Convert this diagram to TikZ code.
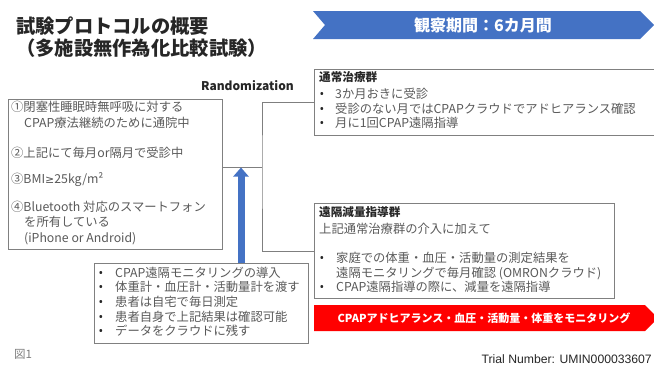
\documentclass[tikz,border=0pt]{standalone}
\usepackage{fontspec}
\setmainfont{Noto Sans CJK JP}
\newfontfamily\arialfont{Liberation Sans}
\newfontfamily\symfont{Noto Sans}
\newfontfamily\mathsymfont{DejaVu Sans}
\usetikzlibrary{arrows.meta}
\definecolor{bannerblue}{HTML}{4472C4}
\definecolor{boxgray}{HTML}{808080}
\definecolor{txtgray}{HTML}{595959}
\definecolor{darktxt}{HTML}{262626}
\definecolor{linegray}{HTML}{7F7F7F}
\definecolor{alertred}{HTML}{FF0000}
\begin{document}
\begin{tikzpicture}[x=1pt,y=-1pt,
  box/.style={draw=boxgray, line width=1.2pt, inner sep=0pt, anchor=north west},
  body/.style={anchor=base west, inner sep=0pt, text=txtgray, font=\fontsize{12.3}{14}\selectfont},
  bul/.style={anchor=base, inner sep=0pt, text=darktxt, font=\symfont\fontsize{12.3}{14}\selectfont},
  grouptitle/.style={anchor=base west, inner sep=0pt, text=darktxt, font=\bfseries\fontsize{11.6}{14}\selectfont},
  conn/.style={draw=linegray, line width=1pt},
  maintitle/.style={anchor=base west, inner sep=0pt, text=darktxt, font=\bfseries\fontsize{19.3}{22}\selectfont},
  bannertext/.style={anchor=base, inner sep=0pt, text=white, font=\bfseries\fontsize{16}{18}\selectfont},
]
\useasboundingbox (0,0) rectangle (654,365);

% titles
\node[maintitle] (t1) at (16,33.1) {試験プロトコルの概要};
\node[maintitle] (t2) at (16,55.1) {（多施設無作為化比較試験）};

% blue banner
\fill[bannerblue] (313,11) -- (640,11) -- (654,25) -- (640,39) -- (313,39) -- (325,25) -- cycle;
\node[bannertext] (period) at (483,31) {観察期間：6カ月間};

% boxes
\node[box, minimum width=214pt, minimum height=150pt] (crit) at (8,99) {};
\node[box, minimum width=350pt, minimum height=66pt] (g1) at (314,69) {};
\node[box, minimum width=300pt, minimum height=95pt] (g2) at (314,203) {};
\node[box, minimum width=214pt, minimum height=80pt] (mon) at (94,263) {};

% criteria text
\node[body] (c1) at (11,111.5) {①閉塞性睡眠時無呼吸に対する};
\node[body] (c2) at (24,127.5) {CPAP療法継続のために通院中};
\node[body] (c3) at (11,157.5) {②上記にて毎月or隔月で受診中};
\node[body] (c4) at (11,183.5) {③BMI{\mathsymfont\fontsize{11}{14}\selectfont ≥}25kg/m²};
\node[body] (c5) at (11,211.5) {④Bluetooth 対応のスマートフォン};
\node[body] (c6) at (24,226.5) {を所有している};
\node[body] (c7) at (24,242) {(iPhone or Android)};

% Randomization
\node[anchor=base, inner sep=0pt, text=darktxt, font=\bfseries\fontsize{12}{14}\selectfont] (rand) at (247.5,90.5) {Randomization};

% group 1
\node[grouptitle] (g1t) at (319,81.5) {通常治療群};
\node[bul] (g1b1) at (322,98.5) {•};
\node[bul] (g1b2) at (322,113.5) {•};
\node[bul] (g1b3) at (322,127.5) {•};
\node[body] (g1l1) at (335,98.5) {3か月おきに受診};
\node[body] (g1l2) at (335,113.5) {受診のない月ではCPAPクラウドでアドヒアランス確認};
\node[body] (g1l3) at (335,127.5) {月に1回CPAP遠隔指導};

% group 2
\node[grouptitle] (g2t) at (319,216.5) {遠隔減量指導群};
\node[body] (g2s) at (319,233.5) {上記通常治療群の介入に加えて};
\node[bul] (g2b1) at (322,262.5) {•};
\node[bul] (g2b2) at (322,291.5) {•};
\node[body] (g2l1) at (336,262.5) {家庭での体重・血圧・活動量の測定結果を};
\node[body] (g2l2) at (336,277.5) {遠隔モニタリングで毎月確認 (OMRONクラウド)};
\node[body] (g2l3) at (336,291.5) {CPAP遠隔指導の際に、減量を遠隔指導};

% monitoring box
\node[bul] (mb1) at (101,277) {•};
\node[bul] (mb2) at (101,291.7) {•};
\node[bul] (mb3) at (101,306.4) {•};
\node[bul] (mb4) at (101,321.1) {•};
\node[bul] (mb5) at (101,335.8) {•};
\node[body] (ml1) at (115,277) {CPAP遠隔モニタリングの導入};
\node[body] (ml2) at (115,291.7) {体重計・血圧計・活動量計を渡す};
\node[body] (ml3) at (115,306.4) {患者は自宅で毎日測定};
\node[body] (ml4) at (115,321.1) {患者自身で上記結果は確認可能};
\node[body] (ml5) at (115,335.8) {データをクラウドに残す};

% red banner
\fill[alertred] (314,305) -- (645,305) -- (658,318) -- (645,331) -- (314,331) -- cycle;
\node[anchor=base, inner sep=0pt, text=white, font=\bfseries\fontsize{11}{13}\selectfont] (monitor) at (484,322) {CPAPアドヒアランス・血圧・活動量・体重をモニタリング};

% connectors
\coordinate (split) at (262,167);
\draw[conn] (crit.east |- split) -- (split);
\draw[conn] (g1.west) -| (split) |- (g2.west);
\coordinate (atip) at (241,167.5);
\draw[bannerblue, line width=7pt, -{Triangle[width=15pt,length=9pt]}] (atip |- mon.north) -- (atip);

% footer
\node[anchor=base west, inner sep=0pt, text=linegray, font=\fontsize{11.5}{13}\selectfont] (fig) at (14,358.5) {図1};
\node[anchor=base east, inner sep=0pt, text=darktxt, font=\arialfont\fontsize{12.2}{14}\selectfont] (trial) at (652,363.5) {Trial Number: UMIN000033607};
\end{tikzpicture}
\end{document}
